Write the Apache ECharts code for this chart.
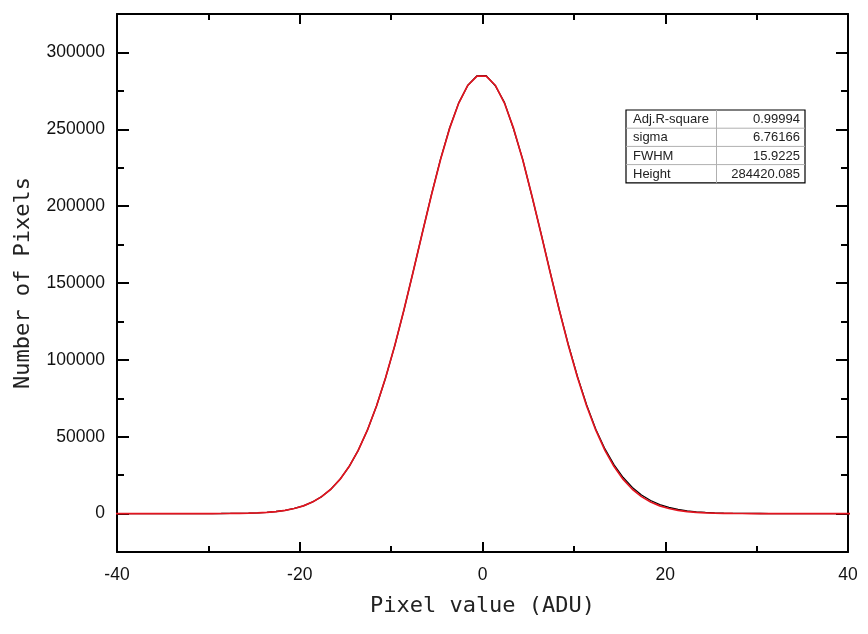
<!DOCTYPE html>
<html>
<head>
<meta charset="utf-8">
<script src="https://cdn.jsdelivr.net/npm/echarts@6/dist/echarts.min.js"></script>
<style>
html,body{margin:0;padding:0;background:#fff;}
#chart{width:868px;height:634px;}
</style>
</head>
<body>
<div id="chart"></div>
<script>
// ---- data ----
const xValues = [
  -40.6,-39.6,-38.6,-37.6,-36.6,-35.6,-34.6,-33.6,-32.6,-31.6,-30.6,-29.6,-28.6,-27.6,-26.6,-25.6,-24.6,-23.6,-22.6,-21.6,
  -20.6,-19.6,-18.6,-17.6,-16.6,-15.6,-14.6,-13.6,-12.6,-11.6,-10.6,-9.6,-8.6,-7.6,-6.6,-5.6,-4.6,-3.6,-2.6,-1.6,-0.6,
  0.4,1.4,2.4,3.4,4.4,5.4,6.4,7.4,8.4,9.4,10.4,11.4,12.4,13.4,14.4,15.4,16.4,17.4,18.4,19.4,
  20.4,21.4,22.4,23.4,24.4,25.4,26.4,27.4,28.4,29.4,30.4,31.4,32.4,33.4,34.4,35.4,36.4,37.4,38.4,39.4,40.4
];
// measured histogram (black)
const pixelCounts = [
  0,0,0,0,0,1,1,2,5,8,15,29,54,96,170,292,495,825,1340,2130,
  3310,5060,7560,11050,15840,22240,30560,41130,54200,69950,88400,109300,132400,157050,182300,207200,230400,250800,267200,278600,284800,
  284900,278300,267500,250200,230400,206700,182400,157300,132600,109800,89000,70600,54850,42060,31670,23430,17020,12120,8520,5870,
  3980,2650,1740,1130,725,465,294,182,111,66,38,22,12,7,4,2,1,1,0,0,0
];
// Gaussian fit (red)
const fitCounts = [
  0,0,0,0,0,0,1,2,4,7,14,27,51,92,164,285,485,810,1320,2100,
  3280,5020,7520,11020,15820,22230,30570,41160,54250,70020,88460,109390,132450,157000,182180,206970,230150,250570,267070,278660,284640,
  284640,278660,267070,250570,230150,206970,182180,157000,132450,109390,88460,70020,54250,41160,30570,22230,15820,11020,7520,5020,
  3280,2100,1320,810,485,285,164,92,51,27,14,7,4,2,1,0,0,0,0,0,0
];
const yMajorTicks = [0,50000,100000,150000,200000,250000,300000];
const yMinorTicks = [25000,75000,125000,175000,225000,275000];
const tableLabels = ['Adj.R-square','sigma','FWHM','Height'];
const tableValues = ['0.99994','6.76166','15.9225','284420.085'];

// ---- chart ----
const chart = echarts.init(document.getElementById('chart'), null, {renderer:'canvas'});
const black = '#000';
const labelFont = "'Liberation Sans', Arial, sans-serif";
const titleFont = "'DejaVu Sans Mono', monospace";

function yAxisDef(pos, ticks, len, showLine, labels) {
  return {
    type:'value', min:-25000, max:325000, position:pos,
    axisLine:{show:showLine, onZero:false, lineStyle:{color:black, width:2}},
    axisTick:{show:true, inside:true, length:len, customValues:ticks, lineStyle:{color:black, width:2}},
    axisLabel:labels ? {show:true, customValues:ticks, formatter:v => String(v), fontSize:17.5, fontFamily:labelFont, color:'#111', margin:12} : {show:false},
    splitLine:{show:false}
  };
}

const yLeft = yAxisDef('left', yMajorTicks, 12, true, true);
yLeft.name = 'Number of Pixels';
yLeft.nameLocation = 'middle';
yLeft.nameGap = 83;
yLeft.nameTextStyle = {fontFamily:titleFont, fontSize:22, color:'#222'};

function xAxisDef(pos, labels) {
  return {
    type:'value', min:-40, max:40, interval:20, position:pos,
    axisLine:{show:true, onZero:false, lineStyle:{color:black, width:2}},
    axisTick:{show:true, inside:true, length:10, lineStyle:{color:black, width:2}},
    minorTick:{show:true, splitNumber:2, length:6, lineStyle:{color:black, width:2}},
    axisLabel:labels ? {show:true, formatter:v => String(v), fontSize:17.5, fontFamily:labelFont, color:'#111', margin:14, showMinLabel:true, showMaxLabel:true} : {show:false},
    splitLine:{show:false}, minorSplitLine:{show:false}
  };
}
const xBottom = xAxisDef('bottom', true);
xBottom.name = 'Pixel value (ADU)';
xBottom.nameLocation = 'middle';
xBottom.nameGap = 43;
xBottom.nameTextStyle = {fontFamily:titleFont, fontSize:22, color:'#222'};

const tableX = 626, tableY = 110, colW1 = 90.5, colW2 = 88.5, rowH = 18.2;
const tableEls = [];
tableEls.push({type:'rect', shape:{x:tableX, y:tableY, width:colW1+colW2, height:rowH*4}, style:{fill:'#fff', stroke:'#000', lineWidth:1.2}, z:10});
for (let i = 1; i < 4; i++) {
  tableEls.push({type:'line', shape:{x1:tableX, y1:tableY+rowH*i, x2:tableX+colW1+colW2, y2:tableY+rowH*i}, style:{stroke:'#b0b0b0', lineWidth:1}, z:11});
}
tableEls.push({type:'line', shape:{x1:tableX+colW1, y1:tableY, x2:tableX+colW1, y2:tableY+rowH*4}, style:{stroke:'#b0b0b0', lineWidth:1}, z:11});
tableLabels.forEach((t, i) => {
  tableEls.push({type:'text', x:tableX+7, y:tableY+rowH*i+rowH/2+0.5, style:{text:t, fontSize:13, fontFamily:labelFont, fill:'#222', textAlign:'left', textVerticalAlign:'middle'}, z:12});
  tableEls.push({type:'text', x:tableX+colW1+colW2-5, y:tableY+rowH*i+rowH/2+0.5, style:{text:tableValues[i], fontSize:13, fontFamily:labelFont, fill:'#222', textAlign:'right', textVerticalAlign:'middle'}, z:12});
});

chart.setOption({
  animation:false,
  backgroundColor:'#fff',
  grid:{left:117, right:20, top:14, bottom:82, containLabel:false},
  xAxis:[xBottom, xAxisDef('top', false)],
  yAxis:[yLeft, yAxisDef('left', yMinorTicks, 7, false, false), yAxisDef('right', yMajorTicks, 12, true, false), yAxisDef('right', yMinorTicks, 7, false, false)],
  series:[
    {type:'line', xAxisIndex:0, yAxisIndex:0, showSymbol:false, data:xValues.map((x,i)=>[x,pixelCounts[i]]), lineStyle:{color:'#000', width:1.3}, z:2},
    {type:'line', xAxisIndex:0, yAxisIndex:0, showSymbol:false, data:xValues.map((x,i)=>[x,fitCounts[i]]), lineStyle:{color:'#e3141f', width:1.7}, z:3}
  ],
  graphic:tableEls
});
</script>
</body>
</html>
